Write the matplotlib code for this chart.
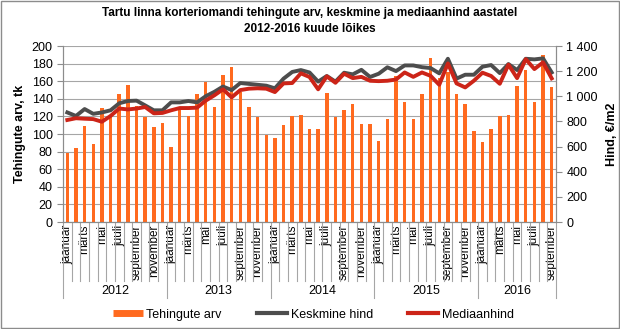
"""
Tartu korteriomandi tehingud 2012-2016, kuude loikes
"""
import matplotlib
matplotlib.use('Agg')
import matplotlib.pyplot as plt
import matplotlib.transforms as mtransforms
from matplotlib.lines import Line2D
from matplotlib.patches import Rectangle

plt.rcParams['font.family'] = ['Liberation Sans', 'DejaVu Sans']

# data
years = ['2012', '2013', '2014', '2015', '2016']
months_in_year = [12, 12, 12, 12, 9]
month_names = ['jaanuar', 'veebruar', 'märts', 'aprill', 'mai', 'juuni',
               'juuli', 'august', 'september', 'oktoober', 'november', 'detsember']

tehingute_arv = [78, 84, 109, 89, 130, 120, 145, 156, 132, 119, 108, 113,
                 85, 127, 120, 146, 159, 131, 167, 176, 148, 131, 119, 99,
                 96, 110, 120, 122, 106, 106, 147, 119, 127, 134, 112, 112,
                 92, 117, 166, 136, 117, 145, 187, 164, 170, 145, 134, 103,
                 91, 106, 121, 122, 155, 173, 136, 190, 153]

keskmine_hind = [872, 844, 899, 861, 872, 889, 945, 963, 966, 928, 889, 889,
                 952, 952, 963, 952, 1001, 1036, 1078, 1050, 1106, 1099, 1092, 1085,
                 1064, 1141, 1194, 1209, 1190, 1117, 1162, 1117, 1188, 1175, 1211, 1154,
                 1180, 1231, 1201, 1246, 1246, 1232, 1225, 1183, 1299, 1141, 1172, 1172,
                 1236, 1249, 1185, 1257, 1209, 1299, 1294, 1302, 1190]

mediaanhind = [812, 826, 822, 819, 798, 844, 903, 896, 903, 915, 865, 868,
               889, 907, 907, 910, 966, 1008, 1056, 992, 1050, 1061, 1064, 1061,
               1034, 1103, 1106, 1183, 1154, 1056, 1159, 1108, 1180, 1145, 1155, 1124,
               1121, 1124, 1134, 1190, 1155, 1190, 1163, 1092, 1262, 1103, 1071, 1124,
               1188, 1162, 1100, 1252, 1145, 1296, 1217, 1270, 1143]

orange = '#FF6A1F'
gray = '#4D4D4D'
red = '#CC2418'
grid_c = '#A6A6A6'

n = len(tehingute_arv)
x = list(range(n))

fig = plt.figure(figsize=(6.2, 3.29), dpi=100)
ax = fig.add_axes([0.1016, 0.325, 0.7952, 0.535])
ax2 = ax.twinx()

ax.bar(x, tehingute_arv, width=0.4, color=orange, zorder=2)
ax2.plot(x, keskmine_hind, color=gray, lw=2.8, solid_joinstyle='round')
ax2.plot(x, mediaanhind, color=red, lw=2.8, solid_joinstyle='round')

ax.set_xlim(-0.5, n - 0.5)
ax.set_ylim(0, 200)
ax.set_yticks(range(0, 201, 20))
ax2.set_ylim(0, 1400)
ax2.set_yticks(range(0, 1401, 200))
ax2.set_yticklabels([f'{v:,}'.replace(',', ' ') for v in range(0, 1401, 200)])

ax.grid(axis='y', color=grid_c, lw=0.8)
ax.set_axisbelow(True)

for a in (ax, ax2):
    a.spines['top'].set_visible(False)
    for s in ('left', 'right', 'bottom'):
        a.spines[s].set_color('#8C8C8C')
        a.spines[s].set_linewidth(0.8)
    a.tick_params(axis='y', labelsize=9, length=4, color='#8C8C8C', width=0.8)

# month labels: every other month
tick_pos = []
tick_lab = []
start = 0
for cnt in months_in_year:
    for m in range(0, cnt, 2):
        tick_pos.append(start + m)
        tick_lab.append(month_names[m])
    start += cnt
ax.set_xticks(tick_pos)
ax.set_xticklabels(tick_lab, rotation=90, fontsize=8.5)
ax.tick_params(axis='x', length=0, pad=2)

# separators between months and years
trans = mtransforms.blended_transform_factory(ax.transData, ax.transAxes)
year_edges = [0]
for cnt in months_in_year:
    year_edges.append(year_edges[-1] + cnt)
for i in range(n + 1):
    bottom = -0.432 if i in year_edges else -0.335
    ax.plot([i - 0.5, i - 0.5], [0, bottom], color=grid_c, lw=0.8,
            transform=trans, clip_on=False)
for k, yr in enumerate(years):
    mid = (year_edges[k] + year_edges[k + 1] - 1) / 2
    ax.text(mid, -0.392, yr, transform=trans, ha='center', va='center', fontsize=9)

ax.set_ylabel('Tehingute arv, tk', fontsize=9, fontweight='bold', labelpad=4)
ax2.set_ylabel('Hind, €/m2', fontsize=9, fontweight='bold', labelpad=6)

fig.text(0.5, 0.937, 'Tartu linna korteriomandi tehingute arv, keskmine ja mediaanhind aastatel\n'
         '2012-2016 kuude lõikes', ha='center', va='center', fontsize=8.5,
         fontweight='bold', linespacing=1.4)

handles = [Line2D([], [], color=orange, lw=5, solid_capstyle='butt'),
           Line2D([], [], color=gray, lw=3),
           Line2D([], [], color=red, lw=3)]
fig.legend(handles, ['Tehingute arv', 'Keskmine hind', 'Mediaanhind'],
           loc='center', bbox_to_anchor=(0.505, 0.043), ncol=3, frameon=False,
           fontsize=9, handlelength=2.4, handletextpad=0.3, columnspacing=2.8)

fig.add_artist(Rectangle((0.001, 0.002), 0.997, 0.995, transform=fig.transFigure,
                         fill=False, edgecolor='#8C8C8C', lw=1))

fig.savefig('out.png', dpi=100)
